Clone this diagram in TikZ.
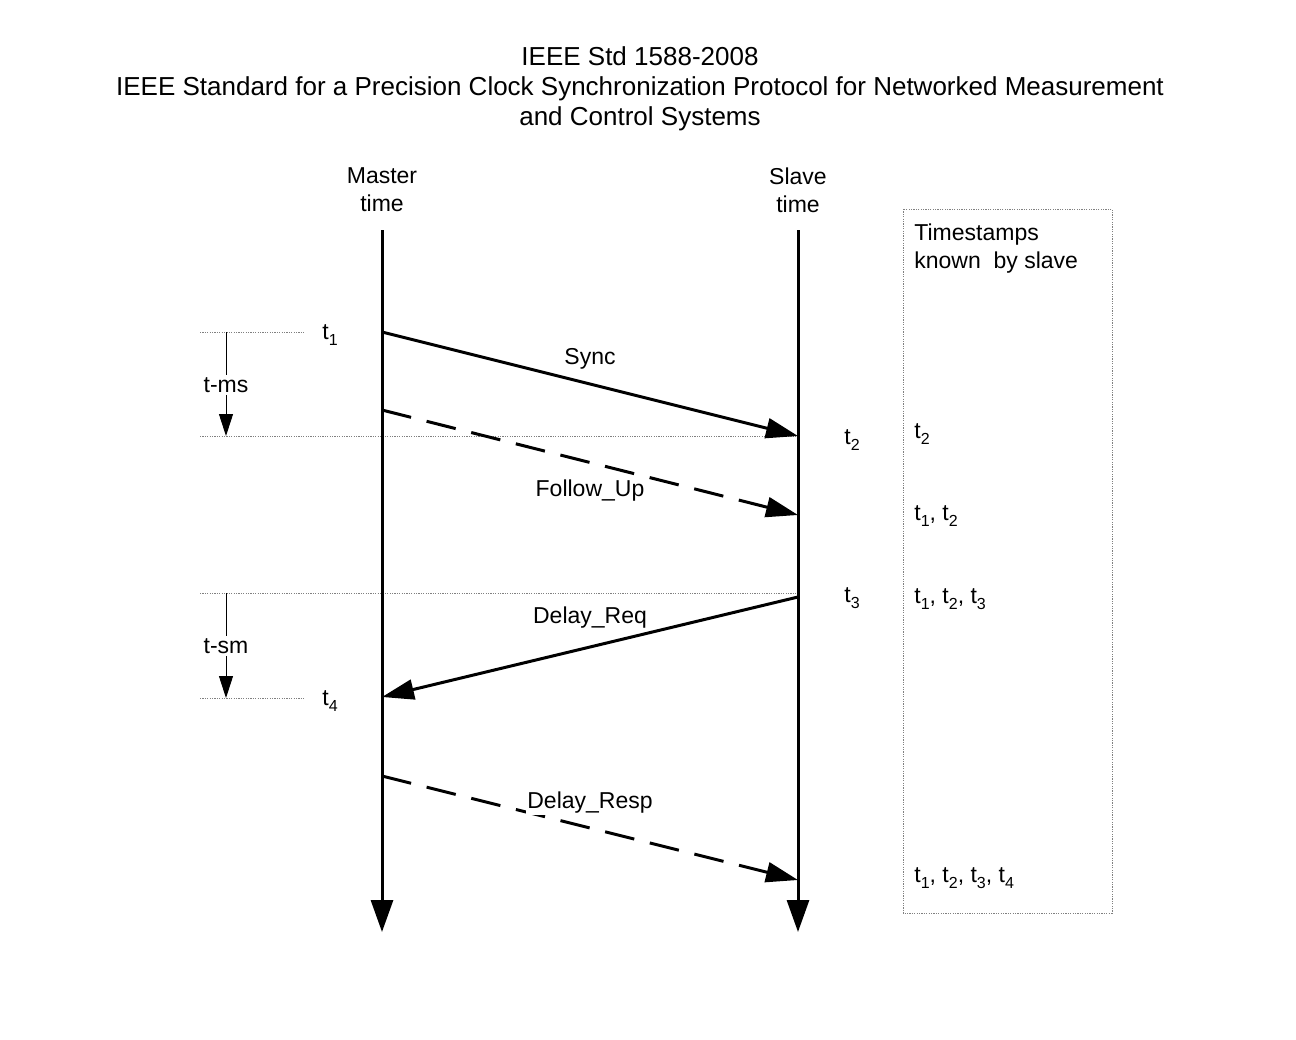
\documentclass[tikz,border=0pt]{standalone}
\usepackage{fontspec}
\setmainfont{Liberation Sans}
\usetikzlibrary{arrows.meta}
\newcommand\tsub[1]{t\raisebox{-0.55ex}{\fontsize{8}{9}\selectfont #1}}
\begin{document}
\begin{tikzpicture}[x=0.5pt,y=-0.5pt,
  lifeline/.style={line width=1.5pt,-{Triangle[length=16pt,width=11pt]}},
  msg/.style={line width=1.5pt,-{Triangle[length=16pt,width=10pt]}},
  dmsg/.style={msg,dash pattern=on 15pt off 8pt},
  guide/.style={gray,line width=0.5pt,dash pattern=on 0.6pt off 0.6pt},
  gap/.style={line width=0.5pt,-{Triangle[length=11pt,width=7pt]}},
  txt/.style={font=\fontsize{11.5}{14}\selectfont,inner sep=1pt},
  lbl/.style={txt,fill=white,inner sep=0.5pt}]
\useasboundingbox (0,0) rectangle (1296,1039);
% title
\node[font=\fontsize{13}{15}\selectfont,align=center] (title) at (640,89)
  {IEEE Std 1588-2008\\IEEE Standard for a Precision Clock Synchronization Protocol for Networked Measurement\\and Control Systems};
% headers
\node[txt,align=center] (mhead) at (382,190) {Master\\time};
\node[txt,align=center] (shead) at (798,190) {Slave\\time};
% lifelines
\coordinate (mtop) at (382,230);
\coordinate (mbot) at (382,932);
\coordinate (stop) at (798,230);
\coordinate (sbot) at (798,932);
% guide lines
\coordinate (g1a) at (200,332); \coordinate (g1b) at (304,332);
\coordinate (g2a) at (200,436); \coordinate (g2b) at (798,436);
\coordinate (g3a) at (200,593); \coordinate (g3b) at (798,593);
\coordinate (g4a) at (200,698); \coordinate (g4b) at (304,698);
\draw[guide] (g1a) -- (g1b);
\draw[guide] (g2a) -- (g2b);
\draw[guide] (g3a) -- (g3b);
\draw[guide] (g4a) -- (g4b);
% box
\coordinate (bx1) at (903,209);
\coordinate (bx2) at (1112,913);
\draw[guide] (bx1) rectangle (bx2);
\draw[lifeline] (mtop) -- (mbot);
\draw[lifeline] (stop) -- (sbot);
% t-ms
\node[txt] (tms) at (226,385) {t-ms};
\coordinate (tmsTop) at (226,332);
\coordinate (tmsBot) at (226,436);
\draw[line width=0.5pt] (tmsTop) -- (tms.north);
\draw[gap] (tms.south) -- (tmsBot);
% t-sm
\node[txt] (tsm) at (226,646) {t-sm};
\coordinate (tsmTop) at (226,593);
\coordinate (tsmBot) at (226,698);
\draw[line width=0.5pt] (tsmTop) -- (tsm.north);
\draw[gap] (tsm.south) -- (tsmBot);
% time labels
\node[txt,anchor=west] (t1) at (320,335) {\tsub{1}};
\node[txt,anchor=west] (t4) at (320,701) {\tsub{4}};
\node[txt,anchor=west] (t2) at (842,440) {\tsub{2}};
\node[txt,anchor=west] (t3) at (842,598) {\tsub{3}};
% messages
\coordinate (syncA) at (382,332); \coordinate (syncB) at (798,436);
\coordinate (fuA) at (382,410); \coordinate (fuB) at (798,515);
\coordinate (drA) at (798,597); \coordinate (drB) at (382,697);
\coordinate (dpA) at (382,776); \coordinate (dpB) at (798,880);
\draw[msg] (syncA) -- (syncB);
\draw[dmsg] (fuA) -- (fuB);
\draw[msg] (drA) -- (drB);
\draw[dmsg] (dpA) -- (dpB);
\node[txt] (sync) at (590,359) {Sync};
\node[lbl] (fu) at (590,491) {Follow\_Up};
\node[lbl] (dreq) at (590,618) {Delay\_Req};
\node[lbl] (dresp) at (590,803) {Delay\_Resp};
% box contents
\node[txt,anchor=west,align=left] (bhead) at (912,249) {Timestamps\\known\ \ by slave};
\node[txt,anchor=west] (k1) at (912,434) {\tsub{2}};
\node[txt,anchor=west] (k2) at (912,516) {\tsub{1}, \tsub{2}};
\node[txt,anchor=west] (k3) at (912,599) {\tsub{1}, \tsub{2}, \tsub{3}};
\node[txt,anchor=west] (k4) at (912,878) {\tsub{1}, \tsub{2}, \tsub{3}, \tsub{4}};
\end{tikzpicture}
\end{document}
